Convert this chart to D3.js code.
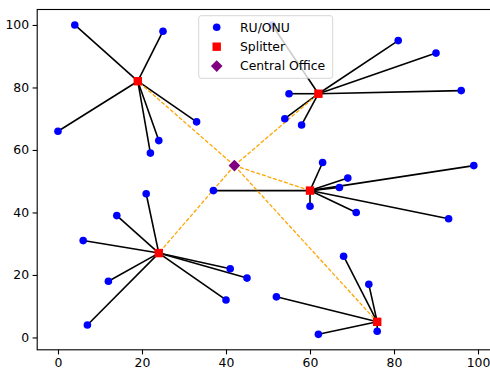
<!DOCTYPE html>
<html>
<head>
<meta charset="utf-8">
<script src="https://cdn.jsdelivr.net/npm/d3@7"></script>
<style>
  body { margin: 0; background: #fff; }
  text { font-family: "DejaVu Sans", sans-serif; }
</style>
</head>
<body>
<div id="chart"></div>
<script>
// Splitter locations
var splitterX = [19, 62, 60, 24, 76];
var splitterY = [82, 78, 47, 27, 5];

// Central office
var officeX = [42];
var officeY = [55];

// RU/ONU locations and the splitter each one hangs off
var ruX = [4, 25, 0, 33, 24, 22,
           81, 90, 96, 55, 54, 58, 51,
           63, 69, 67, 60, 71, 37, 99, 93,
           21, 14, 6, 12, 7, 41, 40, 45,
           68, 74, 52, 62, 76];
var ruY = [100, 98, 66, 69, 63, 59,
           95, 91, 79, 78, 70, 68, 100,
           56, 51, 48, 42, 40, 47, 55, 38,
           46, 39, 31, 18, 4, 22, 12, 19,
           26, 17, 13, 1, 2];
var ruLink = [0, 0, 0, 0, 0, 0,
              1, 1, 1, 1, 1, 1, 1,
              2, 2, 2, 2, 2, 2, 2, 2,
              3, 3, 3, 3, 3, 3, 3, 3,
              4, 4, 4, 4, 4];

var xTicks = [0, 20, 40, 60, 80, 100];
var yTicks = [0, 20, 40, 60, 80, 100];
var legendLabels = ["RU/ONU", "Splitter", "Central Office"];

var width = 490, height = 370;

var svg = d3.select("#chart")
    .append("svg")
    .attr("width", width)
    .attr("height", height);

var x = d3.scaleLinear().domain([-4.95, 103.95]).range([37.2, 494.6]);
var y = d3.scaleLinear().domain([-3.95, 104.95]).range([349.8, 9.5]);

// Black fibre links RU -> splitter
svg.selectAll("line.link")
    .data(ruX)
    .enter()
    .append("line")
    .attr("class", "link")
    .attr("x1", (d, i) => x(d))
    .attr("y1", (d, i) => y(ruY[i]))
    .attr("x2", (d, i) => x(splitterX[ruLink[i]]))
    .attr("y2", (d, i) => y(splitterY[ruLink[i]]))
    .attr("stroke", "#000")
    .attr("stroke-width", 1.6);

// Orange dashed feeder links CO -> splitter
svg.selectAll("line.feeder")
    .data(splitterX)
    .enter()
    .append("line")
    .attr("class", "feeder")
    .attr("x1", x(officeX[0]))
    .attr("y1", y(officeY[0]))
    .attr("x2", d => x(d))
    .attr("y2", (d, i) => y(splitterY[i]))
    .attr("stroke", "orange")
    .attr("stroke-width", 1.3)
    .attr("stroke-dasharray", "4,1.8");

// RU points
svg.selectAll("circle.ru")
    .data(ruX)
    .enter()
    .append("circle")
    .attr("class", "ru")
    .attr("cx", d => x(d))
    .attr("cy", (d, i) => y(ruY[i]))
    .attr("r", 3.8)
    .attr("fill", "blue");

// Splitters
svg.selectAll("rect.splitter")
    .data(splitterX)
    .enter()
    .append("rect")
    .attr("class", "splitter")
    .attr("x", d => x(d) - 4.2)
    .attr("y", (d, i) => y(splitterY[i]) - 4.2)
    .attr("width", 8.4)
    .attr("height", 8.4)
    .attr("fill", "red");

// Central office
var diamond = "M0,-5.8L5.8,0L0,5.8L-5.8,0Z";
svg.selectAll("path.office")
    .data(officeX)
    .enter()
    .append("path")
    .attr("class", "office")
    .attr("d", diamond)
    .attr("transform", (d, i) => `translate(${x(d)},${y(officeY[i])})`)
    .attr("fill", "purple");

// Axes
var xAxis = svg.append("g")
    .attr("transform", "translate(0," + 349.8 + ")")
    .call(d3.axisBottom(x).tickValues(xTicks).tickSize(4.6).tickPadding(3.5));
var yAxis = svg.append("g")
    .attr("transform", "translate(" + 37.2 + ",0)")
    .call(d3.axisLeft(y).tickValues(yTicks).tickSize(4.6).tickPadding(3.5));

[xAxis, yAxis].forEach(a => {
    a.select(".domain").remove();
    a.selectAll("line").attr("stroke", "#000").attr("stroke-width", 1.1);
    a.selectAll("text")
        .attr("fill", "#000")
        .attr("font-size", "12.4px")
        .style("font-family", "DejaVu Sans, sans-serif");
});

// Frame
svg.append("rect")
    .attr("x", 37.2)
    .attr("y", 9.5)
    .attr("width", 494.6 - 37.2)
    .attr("height", 349.8 - 9.5)
    .attr("fill", "none")
    .attr("stroke", "#000")
    .attr("stroke-width", 1.1);

// Legend
var legend = svg.append("g").attr("transform", "translate(198.7,15.7)");
legend.append("rect")
    .attr("width", 134)
    .attr("height", 62.6)
    .attr("rx", 2.5)
    .attr("fill", "#fff")
    .attr("fill-opacity", 0.8)
    .attr("stroke", "#ccc")
    .attr("stroke-opacity", 0.8)
    .attr("stroke-width", 1);

var rows = legend.selectAll("g.row")
    .data(legendLabels)
    .enter()
    .append("g")
    .attr("class", "row")
    .attr("transform", (d, i) => `translate(0,${11.6 + i * 19.4})`);

rows.each(function (d, i) {
    var g = d3.select(this);
    if (i === 0) {
        g.append("circle").attr("cx", 18).attr("cy", 0).attr("r", 3.8).attr("fill", "blue");
    } else if (i === 1) {
        g.append("rect").attr("x", 13.8).attr("y", -4.2).attr("width", 8.4).attr("height", 8.4).attr("fill", "red");
    } else {
        g.append("path").attr("d", diamond).attr("transform", "translate(18,0)").attr("fill", "purple");
    }
});

rows.append("text")
    .attr("x", 41.3)
    .attr("y", 0)
    .attr("dy", "0.35em")
    .attr("font-size", "12.4px")
    .attr("fill", "#000")
    .text(d => d);
</script>
</body>
</html>
